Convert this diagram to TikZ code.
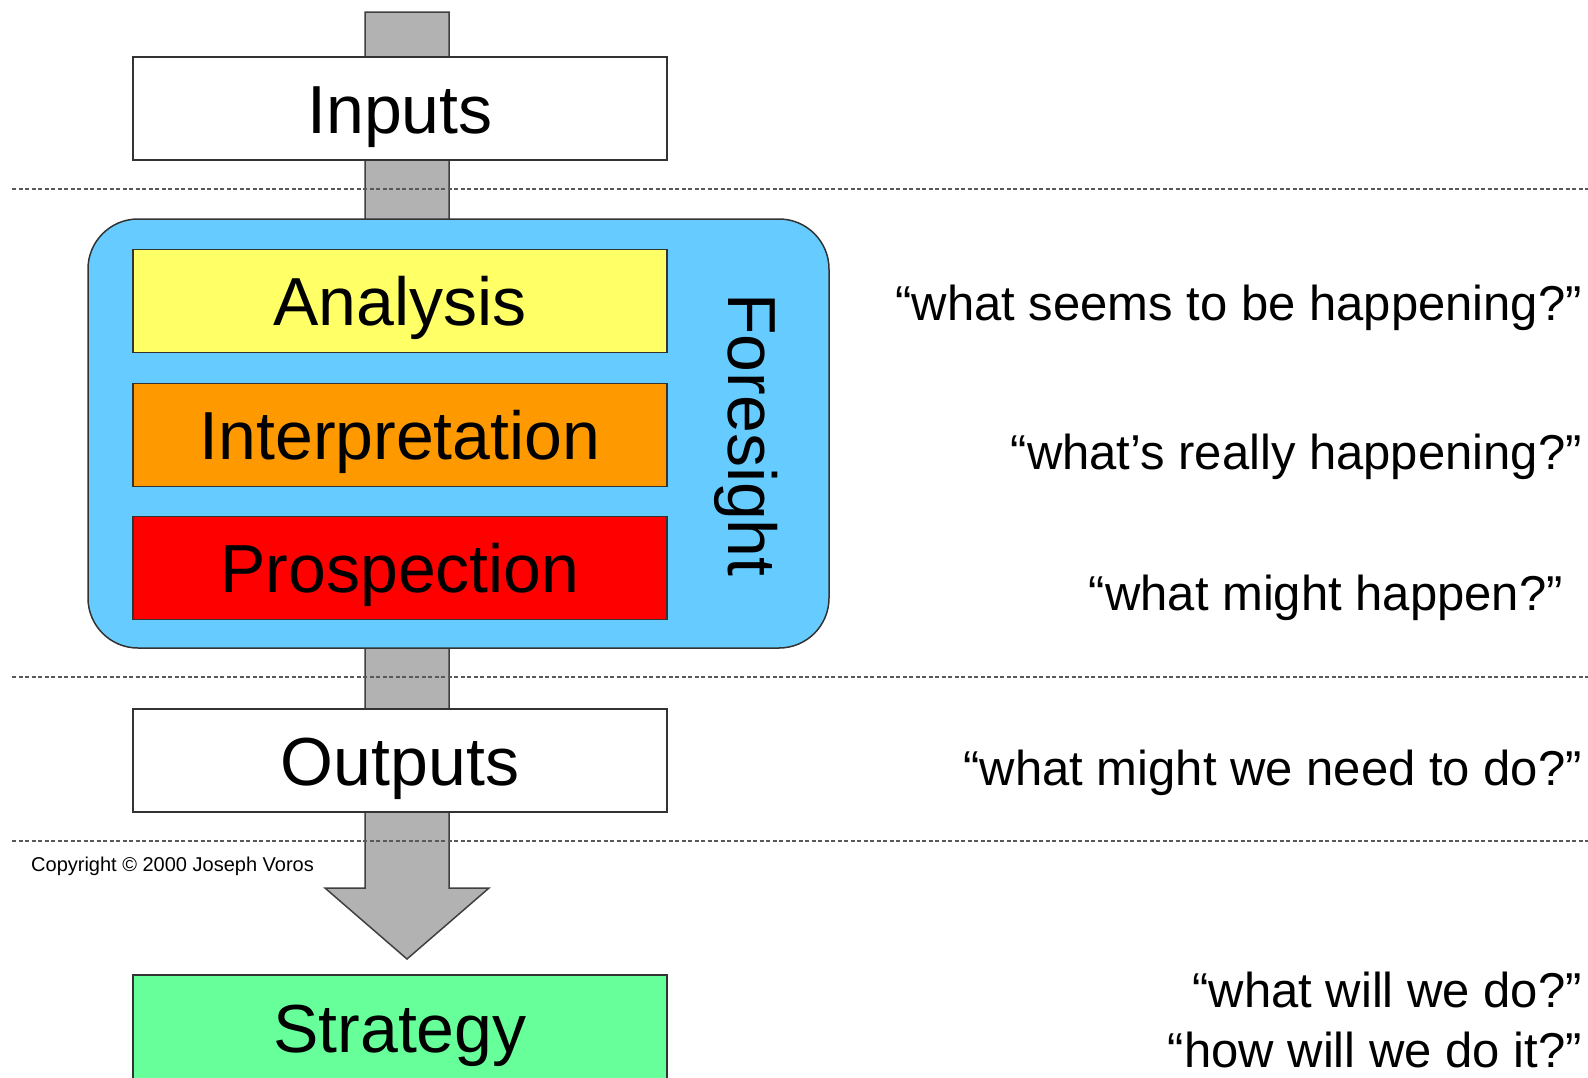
\documentclass[tikz,border=0pt]{standalone}
\usepackage{fontspec}
\setmainfont{Liberation Sans}
\definecolor{stemgray}{RGB}{178,178,178}
\definecolor{fblue}{RGB}{102,204,255}
\definecolor{ayellow}{RGB}{255,255,102}
\definecolor{iorange}{RGB}{255,153,0}
\definecolor{pred}{RGB}{255,0,0}
\definecolor{sgreen}{RGB}{102,255,153}
\begin{document}
\begin{tikzpicture}[x=1pt,y=-1pt,
  box/.style={draw=black!80, line width=1.5pt, minimum width=534pt, minimum height=103pt,
    inner sep=0pt, text height=49pt, text depth=0pt, font=\fontsize{68}{80}\selectfont},
  quest/.style={anchor=base east, inner sep=0pt, font=\fontsize{49}{58}\selectfont},
  sepline/.style={draw=black!65, line width=1.3pt, dash pattern=on 4pt off 2.5pt}]
\useasboundingbox (0,0) rectangle (1588,1077);
\fill[white] (0,0) rectangle (1588,1077);
% block arrow
\coordinate (stemTL) at (365,12);
\coordinate (stemTR) at (449,12);
\coordinate (headR) at (489,888);
\coordinate (headL) at (325,888);
\coordinate (tip) at (407,959);
\draw[fill=stemgray, draw=black!75, line width=1.5pt]
  (stemTL) -- (stemTR) -- (449,888) -- (headR) -- (tip) -- (headL) -- (365,888) -- cycle;
% dashed separators
\coordinate (s1a) at (12,189); \coordinate (s1b) at (1588,189);
\coordinate (s2a) at (12,677); \coordinate (s2b) at (1588,677);
\coordinate (s3a) at (12,841); \coordinate (s3b) at (1588,841);
\draw[sepline] (s1a) -- (s1b);
\draw[sepline] (s2a) -- (s2b);
\draw[sepline] (s3a) -- (s3b);
% boxes
\node[box, fill=white] (inputs) at (400,108.5) {Inputs};
\node[draw=black!80, line width=1.5pt, fill=fblue, rounded corners=50pt,
  minimum width=741pt, minimum height=429pt] (foresight) at (458.5,433.5) {};
\node[box, fill=ayellow] (analysis) at (400,301) {Analysis};
\node[box, fill=iorange] (interp) at (400,435) {Interpretation};
\node[box, fill=pred] (prosp) at (400,568) {Prospection};
\node[rotate=-90, inner sep=0pt, text height=49pt, text depth=0pt,
  font=\fontsize{68}{80}\selectfont] (flabel) at (753,435) {Foresight};
\node[box, fill=white] (outputs) at (400,760.5) {Outputs};
\node[box, fill=sgreen, minimum height=106pt] (strategy) at (400,1028) {Strategy};
% copyright
\node[anchor=base west, inner sep=0pt, font=\fontsize{20}{24}\selectfont] (copy) at (31,871)
  {Copyright © 2000 Joseph Voros};
% questions
\node[quest] (q1) at (1582,320) {“what seems to be happening?”};
\node[quest] (q2) at (1582,469) {“what’s really happening?”};
\node[quest] (q3) at (1563,610) {“what might happen?”};
\node[quest] (q4) at (1582,785) {“what might we need to do?”};
\node[quest] (q5) at (1582,1007) {“what will we do?”};
\node[quest] (q6) at (1582,1067) {“how will we do it?”};
\end{tikzpicture}
\end{document}
